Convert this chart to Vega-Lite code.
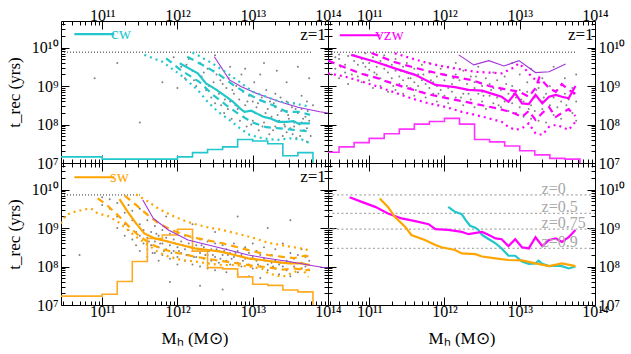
{
"$schema": "https://vega.github.io/schema/vega-lite/v6.json",
"padding": {"left": 4, "top": 2, "right": 0, "bottom": 0},
"background": "white",
"config": {
  "view": {"stroke": "black", "strokeWidth": 1},
  "font": "Liberation Serif",
  "axis": {"domain": false, "grid": false, "tickColor": "black", "tickWidth": 1, "labelFont": "Liberation Serif", "labelFontSize": 16, "labelColor": "black", "titleFont": "Liberation Serif", "titleFontSize": 17, "titleFontWeight": "normal", "titleColor": "black", "labelOverlap": false, "labelFlush": false, "labelBound": false},
  "axisX": {"labelPadding": 6, "titlePadding": 7},
  "axisY": {"labelPadding": 11, "titlePadding": 8}
},
"datasets": {
  "pts": [
    {"p":"cw","m":12.05,"t":9.5},{"p":"cw","m":12.1,"t":9.2},{"p":"cw","m":12.15,"t":9.7},{"p":"cw","m":12.2,"t":9.4},{"p":"cw","m":12.25,"t":9.0},{"p":"cw","m":12.3,"t":9.6},{"p":"cw","m":12.32,"t":9.25},{"p":"cw","m":12.38,"t":8.9},{"p":"cw","m":12.4,"t":9.45},{"p":"cw","m":12.45,"t":8.7},{"p":"cw","m":12.48,"t":9.1},{"p":"cw","m":12.52,"t":9.3},{"p":"cw","m":12.55,"t":8.8},{"p":"cw","m":12.58,"t":8.5},{"p":"cw","m":12.6,"t":9.05},{"p":"cw","m":12.62,"t":8.3},{"p":"cw","m":12.65,"t":8.95},{"p":"cw","m":12.68,"t":9.2},{"p":"cw","m":12.7,"t":8.6},{"p":"cw","m":12.72,"t":8.15},{"p":"cw","m":12.75,"t":8.8},{"p":"cw","m":12.78,"t":9.0},{"p":"cw","m":12.8,"t":8.4},{"p":"cw","m":12.82,"t":8.65},{"p":"cw","m":12.85,"t":9.3},{"p":"cw","m":12.88,"t":8.2},{"p":"cw","m":12.9,"t":8.5},{"p":"cw","m":12.92,"t":7.95},{"p":"cw","m":12.95,"t":8.75},{"p":"cw","m":12.97,"t":8.35},{"p":"cw","m":13.0,"t":8.6},{"p":"cw","m":13.0,"t":8.1},{"p":"cw","m":13.02,"t":9.1},{"p":"cw","m":13.05,"t":8.45},{"p":"cw","m":13.08,"t":7.85},{"p":"cw","m":13.1,"t":8.25},{"p":"cw","m":13.12,"t":8.7},{"p":"cw","m":13.15,"t":8.05},{"p":"cw","m":13.18,"t":8.9},{"p":"cw","m":13.2,"t":8.4},{"p":"cw","m":13.22,"t":7.75},{"p":"cw","m":13.25,"t":8.2},{"p":"cw","m":13.28,"t":8.55},{"p":"cw","m":13.3,"t":7.95},{"p":"cw","m":13.32,"t":9.4},{"p":"cw","m":13.35,"t":8.1},{"p":"cw","m":13.38,"t":8.35},{"p":"cw","m":13.4,"t":7.7},{"p":"cw","m":13.42,"t":8.0},{"p":"cw","m":13.45,"t":8.6},{"p":"cw","m":13.48,"t":8.15},{"p":"cw","m":13.5,"t":7.9},{"p":"cw","m":13.52,"t":8.45},{"p":"cw","m":13.55,"t":8.05},{"p":"cw","m":13.58,"t":7.65},{"p":"cw","m":13.6,"t":8.3},{"p":"cw","m":13.62,"t":8.0},{"p":"cw","m":13.65,"t":8.75},{"p":"cw","m":13.68,"t":7.85},{"p":"cw","m":13.7,"t":8.2},{"p":"cw","m":13.72,"t":7.55},{"p":"cw","m":13.75,"t":8.1},{"p":"cw","m":13.75,"t":9.2},{"p":"cw","m":11.5,"t":8.05},{"p":"cw","m":11.2,"t":9.6},{"p":"cw","m":11.8,"t":9.1},{"p":"cw","m":10.9,"t":9.2},{"p":"cw","m":12.0,"t":8.95},{"p":"cw","m":11.95,"t":9.75},{"p":"cw","m":13.8,"t":8.5},{"p":"cw","m":13.15,"t":9.6},{"p":"cw","m":12.5,"t":9.8},{"p":"cw","m":13.45,"t":9.1},{"p":"cw","m":12.9,"t":9.45},{"p":"cw","m":13.6,"t":9.5},{"p":"cw","m":13.3,"t":8.8},{"p":"cw","m":13.3,"t":8.45},{"p":"cw","m":13.45,"t":8.35},{"p":"cw","m":13.45,"t":7.8},{"p":"cw","m":13.55,"t":8.55},{"p":"cw","m":13.55,"t":7.95},{"p":"cw","m":13.65,"t":8.4},{"p":"cw","m":13.65,"t":8.05},{"p":"cw","m":13.72,"t":8.6},{"p":"cw","m":13.72,"t":7.9},{"p":"cw","m":13.1,"t":9.3},{"p":"cw","m":12.7,"t":9.5},
    {"p":"cw","m":12.12,"t":9.55},{"p":"cw","m":12.22,"t":9.15},{"p":"cw","m":12.35,"t":9.35},{"p":"cw","m":12.42,"t":9.0},{"p":"cw","m":12.5,"t":8.55},{"p":"cw","m":12.57,"t":9.15},{"p":"cw","m":12.63,"t":8.65},{"p":"cw","m":12.67,"t":8.4},{"p":"cw","m":12.73,"t":8.9},{"p":"cw","m":12.77,"t":8.5},{"p":"cw","m":12.83,"t":8.1},{"p":"cw","m":12.87,"t":8.85},{"p":"cw","m":12.93,"t":8.6},{"p":"cw","m":12.98,"t":8.0},{"p":"cw","m":13.03,"t":8.3},{"p":"cw","m":13.07,"t":8.55},{"p":"cw","m":13.13,"t":7.95},{"p":"cw","m":13.17,"t":8.3},{"p":"cw","m":13.23,"t":8.6},{"p":"cw","m":13.27,"t":7.85},{"p":"cw","m":13.33,"t":8.25},{"p":"cw","m":13.37,"t":8.7},{"p":"cw","m":13.43,"t":7.95},{"p":"cw","m":13.47,"t":8.25},{"p":"cw","m":13.53,"t":7.75},{"p":"cw","m":13.57,"t":8.4},{"p":"cw","m":13.63,"t":7.7},{"p":"cw","m":13.67,"t":8.15},{"p":"cw","m":13.73,"t":8.35},{"p":"cw","m":13.77,"t":7.7},
    {"p":"vzw","m":10.5,"t":9.85},{"p":"vzw","m":10.5,"t":9.6},{"p":"vzw","m":10.5,"t":9.3},{"p":"vzw","m":10.55,"t":9.75},{"p":"vzw","m":10.55,"t":9.45},{"p":"vzw","m":10.6,"t":9.7},{"p":"vzw","m":10.6,"t":9.2},{"p":"vzw","m":10.6,"t":9.82},{"p":"vzw","m":10.68,"t":9.55},{"p":"vzw","m":10.68,"t":9.35},{"p":"vzw","m":10.72,"t":9.78},{"p":"vzw","m":10.72,"t":9.05},{"p":"vzw","m":10.8,"t":9.65},{"p":"vzw","m":10.8,"t":9.4},{"p":"vzw","m":10.8,"t":9.8},{"p":"vzw","m":10.85,"t":9.25},{"p":"vzw","m":10.85,"t":9.55},{"p":"vzw","m":10.9,"t":9.7},{"p":"vzw","m":10.9,"t":9.1},{"p":"vzw","m":10.95,"t":9.5},{"p":"vzw","m":10.95,"t":9.3},{"p":"vzw","m":10.95,"t":9.85},{"p":"vzw","m":11.0,"t":9.6},{"p":"vzw","m":11.0,"t":9.15},{"p":"vzw","m":11.0,"t":9.42},{"p":"vzw","m":11.05,"t":9.75},{"p":"vzw","m":11.05,"t":8.95},{"p":"vzw","m":11.1,"t":9.5},{"p":"vzw","m":11.1,"t":9.3},{"p":"vzw","m":11.15,"t":9.65},{"p":"vzw","m":11.15,"t":9.0},{"p":"vzw","m":11.15,"t":9.2},{"p":"vzw","m":11.2,"t":9.45},{"p":"vzw","m":11.2,"t":9.8},{"p":"vzw","m":11.25,"t":9.1},{"p":"vzw","m":11.25,"t":9.35},{"p":"vzw","m":11.25,"t":8.85},{"p":"vzw","m":11.3,"t":9.55},{"p":"vzw","m":11.3,"t":9.2},{"p":"vzw","m":11.35,"t":9.4},{"p":"vzw","m":11.35,"t":8.9},{"p":"vzw","m":11.35,"t":9.7},{"p":"vzw","m":11.4,"t":9.25},{"p":"vzw","m":11.4,"t":9.05},{"p":"vzw","m":11.45,"t":9.5},{"p":"vzw","m":11.45,"t":8.8},{"p":"vzw","m":11.45,"t":9.15},{"p":"vzw","m":11.5,"t":9.35},{"p":"vzw","m":11.5,"t":9.0},{"p":"vzw","m":11.5,"t":9.6},{"p":"vzw","m":11.55,"t":8.95},{"p":"vzw","m":11.55,"t":9.2},{"p":"vzw","m":11.6,"t":9.45},{"p":"vzw","m":11.6,"t":8.75},{"p":"vzw","m":11.6,"t":9.1},{"p":"vzw","m":11.65,"t":9.3},{"p":"vzw","m":11.65,"t":9.0},{"p":"vzw","m":11.7,"t":8.85},{"p":"vzw","m":11.7,"t":9.55},{"p":"vzw","m":11.7,"t":9.15},{"p":"vzw","m":11.75,"t":9.05},{"p":"vzw","m":11.75,"t":8.7},{"p":"vzw","m":11.8,"t":9.35},{"p":"vzw","m":11.8,"t":8.95},{"p":"vzw","m":11.8,"t":9.6},{"p":"vzw","m":11.85,"t":9.1},{"p":"vzw","m":11.85,"t":8.8},{"p":"vzw","m":11.9,"t":9.25},{"p":"vzw","m":11.9,"t":8.6},{"p":"vzw","m":11.9,"t":9.0},{"p":"vzw","m":11.95,"t":9.45},{"p":"vzw","m":11.95,"t":8.9},{"p":"vzw","m":12.0,"t":9.15},{"p":"vzw","m":12.0,"t":8.75},{"p":"vzw","m":12.0,"t":9.3},{"p":"vzw","m":12.05,"t":8.95},{"p":"vzw","m":12.05,"t":9.5},{"p":"vzw","m":12.05,"t":8.55},{"p":"vzw","m":12.1,"t":9.05},{"p":"vzw","m":12.1,"t":8.85},{"p":"vzw","m":12.15,"t":9.3},{"p":"vzw","m":12.15,"t":8.7},{"p":"vzw","m":12.15,"t":9.6},{"p":"vzw","m":12.2,"t":8.95},{"p":"vzw","m":12.2,"t":9.15},{"p":"vzw","m":12.25,"t":8.8},{"p":"vzw","m":12.25,"t":8.5},{"p":"vzw","m":12.25,"t":9.4},{"p":"vzw","m":12.3,"t":9.05},{"p":"vzw","m":12.3,"t":8.9},{"p":"vzw","m":12.35,"t":8.65},{"p":"vzw","m":12.35,"t":9.25},{"p":"vzw","m":12.4,"t":8.95},{"p":"vzw","m":12.4,"t":8.45},{"p":"vzw","m":12.4,"t":9.1},{"p":"vzw","m":12.45,"t":8.8},{"p":"vzw","m":12.45,"t":9.5},{"p":"vzw","m":12.5,"t":9.0},{"p":"vzw","m":12.5,"t":8.6},{"p":"vzw","m":12.5,"t":8.85},{"p":"vzw","m":12.55,"t":9.2},{"p":"vzw","m":12.55,"t":8.4},{"p":"vzw","m":12.6,"t":8.75},{"p":"vzw","m":12.6,"t":9.05},{"p":"vzw","m":12.65,"t":8.95},{"p":"vzw","m":12.65,"t":8.55},{"p":"vzw","m":12.65,"t":9.35},{"p":"vzw","m":12.7,"t":8.7},{"p":"vzw","m":12.7,"t":9.15},{"p":"vzw","m":12.75,"t":8.45},{"p":"vzw","m":12.75,"t":8.9},{"p":"vzw","m":12.8,"t":9.25},{"p":"vzw","m":12.8,"t":8.6},{"p":"vzw","m":12.85,"t":8.8},{"p":"vzw","m":12.85,"t":8.35},{"p":"vzw","m":12.9,"t":9.0},{"p":"vzw","m":12.9,"t":8.55},{"p":"vzw","m":12.9,"t":9.6},{"p":"vzw","m":12.95,"t":8.7},{"p":"vzw","m":12.95,"t":8.3},{"p":"vzw","m":13.0,"t":8.9},{"p":"vzw","m":13.0,"t":8.45},{"p":"vzw","m":13.0,"t":9.3},{"p":"vzw","m":13.05,"t":8.6},{"p":"vzw","m":13.05,"t":8.2},{"p":"vzw","m":13.1,"t":8.85},{"p":"vzw","m":13.1,"t":9.1},{"p":"vzw","m":13.15,"t":8.5},{"p":"vzw","m":13.15,"t":8.15},{"p":"vzw","m":13.15,"t":9.45},{"p":"vzw","m":13.2,"t":8.7},{"p":"vzw","m":13.2,"t":8.35},{"p":"vzw","m":13.25,"t":8.95},{"p":"vzw","m":13.25,"t":8.1},{"p":"vzw","m":13.3,"t":8.6},{"p":"vzw","m":13.3,"t":9.2},{"p":"vzw","m":13.3,"t":8.4},{"p":"vzw","m":13.35,"t":8.8},{"p":"vzw","m":13.35,"t":8.05},{"p":"vzw","m":13.4,"t":8.5},{"p":"vzw","m":13.4,"t":9.0},{"p":"vzw","m":13.45,"t":8.7},{"p":"vzw","m":13.45,"t":8.25},{"p":"vzw","m":13.45,"t":9.5},{"p":"vzw","m":13.5,"t":8.9},{"p":"vzw","m":13.5,"t":8.45},{"p":"vzw","m":13.55,"t":8.6},{"p":"vzw","m":13.55,"t":8.15},{"p":"vzw","m":13.6,"t":8.8},{"p":"vzw","m":13.6,"t":9.2},{"p":"vzw","m":13.65,"t":8.4},{"p":"vzw","m":13.65,"t":8.65},{"p":"vzw","m":13.7,"t":8.95},{"p":"vzw","m":13.7,"t":8.3},{"p":"vzw","m":13.75,"t":8.6},{"p":"vzw","m":13.75,"t":8.1},{"p":"vzw","m":13.75,"t":9.3},
    {"p":"vzw","m":10.62,"t":9.5},{"p":"vzw","m":10.77,"t":9.3},{"p":"vzw","m":10.92,"t":9.6},{"p":"vzw","m":11.07,"t":9.35},{"p":"vzw","m":11.22,"t":9.55},{"p":"vzw","m":11.32,"t":9.0},{"p":"vzw","m":11.42,"t":9.4},{"p":"vzw","m":11.52,"t":9.2},{"p":"vzw","m":11.62,"t":8.9},{"p":"vzw","m":11.72,"t":9.3},{"p":"vzw","m":11.82,"t":9.15},{"p":"vzw","m":11.92,"t":8.8},{"p":"vzw","m":12.02,"t":9.0},{"p":"vzw","m":12.12,"t":9.2},{"p":"vzw","m":12.22,"t":8.7},{"p":"vzw","m":12.32,"t":8.8},{"p":"vzw","m":12.42,"t":9.25},{"p":"vzw","m":12.52,"t":8.75},{"p":"vzw","m":12.62,"t":8.9},{"p":"vzw","m":12.72,"t":8.5},{"p":"vzw","m":12.82,"t":9.05},{"p":"vzw","m":12.92,"t":8.8},{"p":"vzw","m":13.02,"t":8.65},{"p":"vzw","m":13.12,"t":8.4},{"p":"vzw","m":13.22,"t":8.9},{"p":"vzw","m":13.32,"t":8.7},{"p":"vzw","m":13.42,"t":8.35},{"p":"vzw","m":13.52,"t":8.75},{"p":"vzw","m":13.62,"t":8.5},{"p":"vzw","m":13.72,"t":8.8},
    {"p":"sw","m":11.0,"t":9.8},{"p":"sw","m":11.0,"t":9.6},{"p":"sw","m":11.1,"t":9.5},{"p":"sw","m":11.1,"t":9.75},{"p":"sw","m":11.2,"t":9.3},{"p":"sw","m":11.2,"t":9.65},{"p":"sw","m":11.2,"t":9.0},{"p":"sw","m":11.3,"t":9.4},{"p":"sw","m":11.3,"t":9.1},{"p":"sw","m":11.3,"t":8.8},{"p":"sw","m":11.35,"t":9.6},{"p":"sw","m":11.35,"t":8.95},{"p":"sw","m":11.4,"t":9.2},{"p":"sw","m":11.4,"t":8.7},{"p":"sw","m":11.4,"t":9.45},{"p":"sw","m":11.45,"t":8.9},{"p":"sw","m":11.45,"t":8.55},{"p":"sw","m":11.5,"t":9.1},{"p":"sw","m":11.5,"t":8.8},{"p":"sw","m":11.5,"t":8.4},{"p":"sw","m":11.5,"t":9.5},{"p":"sw","m":11.55,"t":8.95},{"p":"sw","m":11.55,"t":8.6},{"p":"sw","m":11.6,"t":8.75},{"p":"sw","m":11.6,"t":9.2},{"p":"sw","m":11.6,"t":8.45},{"p":"sw","m":11.6,"t":8.25},{"p":"sw","m":11.65,"t":8.9},{"p":"sw","m":11.65,"t":8.55},{"p":"sw","m":11.7,"t":8.65},{"p":"sw","m":11.7,"t":9.05},{"p":"sw","m":11.7,"t":8.35},{"p":"sw","m":11.75,"t":8.8},{"p":"sw","m":11.75,"t":8.5},{"p":"sw","m":11.75,"t":8.15},{"p":"sw","m":11.8,"t":8.6},{"p":"sw","m":11.8,"t":8.95},{"p":"sw","m":11.8,"t":8.3},{"p":"sw","m":11.85,"t":8.75},{"p":"sw","m":11.85,"t":8.45},{"p":"sw","m":11.85,"t":9.3},{"p":"sw","m":11.9,"t":8.55},{"p":"sw","m":11.9,"t":8.2},{"p":"sw","m":11.9,"t":8.85},{"p":"sw","m":11.95,"t":8.7},{"p":"sw","m":11.95,"t":8.4},{"p":"sw","m":12.0,"t":8.5},{"p":"sw","m":12.0,"t":8.9},{"p":"sw","m":12.0,"t":8.25},{"p":"sw","m":12.0,"t":8.05},{"p":"sw","m":12.05,"t":8.65},{"p":"sw","m":12.05,"t":8.35},{"p":"sw","m":12.1,"t":8.45},{"p":"sw","m":12.1,"t":8.8},{"p":"sw","m":12.1,"t":8.15},{"p":"sw","m":12.15,"t":8.6},{"p":"sw","m":12.15,"t":8.3},{"p":"sw","m":12.2,"t":8.4},{"p":"sw","m":12.2,"t":8.75},{"p":"sw","m":12.2,"t":8.05},{"p":"sw","m":12.2,"t":9.1},{"p":"sw","m":12.25,"t":8.55},{"p":"sw","m":12.25,"t":8.25},{"p":"sw","m":12.3,"t":8.35},{"p":"sw","m":12.3,"t":8.7},{"p":"sw","m":12.3,"t":8.0},{"p":"sw","m":12.35,"t":8.5},{"p":"sw","m":12.35,"t":8.2},{"p":"sw","m":12.4,"t":8.3},{"p":"sw","m":12.4,"t":8.65},{"p":"sw","m":12.4,"t":7.95},{"p":"sw","m":12.45,"t":8.45},{"p":"sw","m":12.45,"t":8.15},{"p":"sw","m":12.5,"t":8.25},{"p":"sw","m":12.5,"t":8.6},{"p":"sw","m":12.5,"t":7.9},{"p":"sw","m":12.5,"t":8.9},{"p":"sw","m":12.55,"t":8.4},{"p":"sw","m":12.55,"t":8.1},{"p":"sw","m":12.6,"t":8.3},{"p":"sw","m":12.6,"t":8.55},{"p":"sw","m":12.65,"t":8.15},{"p":"sw","m":12.65,"t":8.45},{"p":"sw","m":12.65,"t":7.85},{"p":"sw","m":12.7,"t":8.35},{"p":"sw","m":12.7,"t":8.05},{"p":"sw","m":12.75,"t":8.25},{"p":"sw","m":12.75,"t":8.6},{"p":"sw","m":12.8,"t":8.1},{"p":"sw","m":12.8,"t":8.4},{"p":"sw","m":12.8,"t":7.8},{"p":"sw","m":12.85,"t":8.3},{"p":"sw","m":12.85,"t":8.0},{"p":"sw","m":12.9,"t":8.2},{"p":"sw","m":12.9,"t":8.5},{"p":"sw","m":12.95,"t":8.05},{"p":"sw","m":12.95,"t":8.35},{"p":"sw","m":12.95,"t":7.75},{"p":"sw","m":13.0,"t":8.25},{"p":"sw","m":13.0,"t":7.95},{"p":"sw","m":13.0,"t":8.6},{"p":"sw","m":13.05,"t":8.15},{"p":"sw","m":13.05,"t":8.4},{"p":"sw","m":13.1,"t":8.0},{"p":"sw","m":13.1,"t":8.3},{"p":"sw","m":13.1,"t":7.7},{"p":"sw","m":13.15,"t":8.2},{"p":"sw","m":13.15,"t":8.5},{"p":"sw","m":13.2,"t":8.05},{"p":"sw","m":13.2,"t":7.9},{"p":"sw","m":13.25,"t":8.3},{"p":"sw","m":13.25,"t":8.1},{"p":"sw","m":13.3,"t":7.95},{"p":"sw","m":13.3,"t":8.45},{"p":"sw","m":13.3,"t":8.15},{"p":"sw","m":13.35,"t":8.05},{"p":"sw","m":13.35,"t":7.8},{"p":"sw","m":13.4,"t":8.25},{"p":"sw","m":13.4,"t":8.0},{"p":"sw","m":13.4,"t":8.6},{"p":"sw","m":13.45,"t":7.9},{"p":"sw","m":13.45,"t":8.15},{"p":"sw","m":13.5,"t":8.1},{"p":"sw","m":13.5,"t":8.35},{"p":"sw","m":13.5,"t":7.75},{"p":"sw","m":13.55,"t":8.0},{"p":"sw","m":13.55,"t":8.2},{"p":"sw","m":13.6,"t":8.3},{"p":"sw","m":13.6,"t":7.85},{"p":"sw","m":13.65,"t":8.1},{"p":"sw","m":13.65,"t":8.45},{"p":"sw","m":13.65,"t":7.95},{"p":"sw","m":13.7,"t":8.0},{"p":"sw","m":13.7,"t":8.25},{"p":"sw","m":13.75,"t":8.15},{"p":"sw","m":13.75,"t":7.9},{"p":"sw","m":11.9,"t":7.6},{"p":"sw","m":12.3,"t":7.5},{"p":"sw","m":12.8,"t":9.3},{"p":"sw","m":13.2,"t":9.0},{"p":"sw","m":10.7,"t":8.3},{"p":"sw","m":12.6,"t":7.4},{"p":"sw","m":13.5,"t":9.2},
    {"p":"sw","m":11.62,"t":8.65},{"p":"sw","m":11.67,"t":8.35},{"p":"sw","m":11.72,"t":8.85},{"p":"sw","m":11.77,"t":8.6},{"p":"sw","m":11.82,"t":8.4},{"p":"sw","m":11.87,"t":8.65},{"p":"sw","m":11.92,"t":8.35},{"p":"sw","m":11.97,"t":8.6},{"p":"sw","m":12.02,"t":8.4},{"p":"sw","m":12.07,"t":8.55},{"p":"sw","m":12.12,"t":8.3},{"p":"sw","m":12.17,"t":8.5},{"p":"sw","m":12.22,"t":8.25},{"p":"sw","m":12.27,"t":8.45},{"p":"sw","m":12.32,"t":8.55},{"p":"sw","m":12.37,"t":8.3},{"p":"sw","m":12.42,"t":8.4},{"p":"sw","m":12.47,"t":8.3},{"p":"sw","m":12.52,"t":8.45},{"p":"sw","m":12.57,"t":8.2},{"p":"sw","m":12.62,"t":8.4},{"p":"sw","m":12.67,"t":8.3},{"p":"sw","m":12.72,"t":8.2},{"p":"sw","m":12.77,"t":8.35},{"p":"sw","m":12.87,"t":8.15},{"p":"sw","m":12.97,"t":8.2},{"p":"sw","m":13.07,"t":8.05},{"p":"sw","m":13.17,"t":8.15},{"p":"sw","m":13.27,"t":8.0},{"p":"sw","m":13.37,"t":8.1}
  ],
  "ln": [
    {"p":"cw","s":"p50","m":12.03,"t":9.59},{"p":"cw","s":"p50","m":12.27,"t":9.33},{"p":"cw","s":"p50","m":12.38,"t":9.07},{"p":"cw","s":"p50","m":12.52,"t":8.9},{"p":"cw","s":"p50","m":12.65,"t":8.72},{"p":"cw","s":"p50","m":12.74,"t":8.59},{"p":"cw","s":"p50","m":12.83,"t":8.42},{"p":"cw","s":"p50","m":12.89,"t":8.33},{"p":"cw","s":"p50","m":12.98,"t":8.36},{"p":"cw","s":"p50","m":13.05,"t":8.29},{"p":"cw","s":"p50","m":13.14,"t":8.2},{"p":"cw","s":"p50","m":13.23,"t":8.16},{"p":"cw","s":"p50","m":13.34,"t":8.07},{"p":"cw","s":"p50","m":13.45,"t":8.07},{"p":"cw","s":"p50","m":13.54,"t":8.09},{"p":"cw","s":"p50","m":13.6,"t":8.03},{"p":"cw","s":"p50","m":13.76,"t":8.03},
    {"p":"cw","s":"p25","m":11.85,"t":9.72},{"p":"cw","s":"p25","m":12.04,"t":9.42},{"p":"cw","s":"p25","m":12.29,"t":9.11},{"p":"cw","s":"p25","m":12.47,"t":8.77},{"p":"cw","s":"p25","m":12.65,"t":8.5},{"p":"cw","s":"p25","m":12.83,"t":8.25},{"p":"cw","s":"p25","m":13.0,"t":8.05},{"p":"cw","s":"p25","m":13.18,"t":7.93},{"p":"cw","s":"p25","m":13.36,"t":7.9},{"p":"cw","s":"p25","m":13.54,"t":7.86},{"p":"cw","s":"p25","m":13.76,"t":7.82},
    {"p":"cw","s":"p75","m":12.13,"t":9.76},{"p":"cw","s":"p75","m":12.38,"t":9.5},{"p":"cw","s":"p75","m":12.56,"t":9.29},{"p":"cw","s":"p75","m":12.74,"t":9.03},{"p":"cw","s":"p75","m":12.92,"t":8.81},{"p":"cw","s":"p75","m":13.09,"t":8.64},{"p":"cw","s":"p75","m":13.27,"t":8.5},{"p":"cw","s":"p75","m":13.45,"t":8.33},{"p":"cw","s":"p75","m":13.63,"t":8.33},{"p":"cw","s":"p75","m":13.76,"t":8.25},
    {"p":"cw","s":"p90","m":12.2,"t":9.87},{"p":"cw","s":"p90","m":12.29,"t":9.78},{"p":"cw","s":"p90","m":12.47,"t":9.58},{"p":"cw","s":"p90","m":12.65,"t":9.35},{"p":"cw","s":"p90","m":12.83,"t":9.1},{"p":"cw","s":"p90","m":13.0,"t":8.85},{"p":"cw","s":"p90","m":13.18,"t":8.72},{"p":"cw","s":"p90","m":13.36,"t":8.59},{"p":"cw","s":"p90","m":13.54,"t":8.55},{"p":"cw","s":"p90","m":13.67,"t":8.5},{"p":"cw","s":"p90","m":13.76,"t":8.46},
    {"p":"cw","s":"p10","m":11.56,"t":9.81},{"p":"cw","s":"p10","m":11.8,"t":9.63},{"p":"cw","s":"p10","m":12.04,"t":9.29},{"p":"cw","s":"p10","m":12.27,"t":8.9},{"p":"cw","s":"p10","m":12.4,"t":8.59},{"p":"cw","s":"p10","m":12.54,"t":8.33},{"p":"cw","s":"p10","m":12.69,"t":8.12},{"p":"cw","s":"p10","m":12.83,"t":7.9},{"p":"cw","s":"p10","m":12.96,"t":7.73},{"p":"cw","s":"p10","m":13.14,"t":7.64},{"p":"cw","s":"p10","m":13.32,"t":7.6},{"p":"cw","s":"p10","m":13.49,"t":7.64},{"p":"cw","s":"p10","m":13.67,"t":7.6},{"p":"cw","s":"p10","m":13.76,"t":7.51},
    {"p":"cw","s":"hist","m":10.453,"t":7.16},{"p":"cw","s":"hist","m":11.0,"t":7.1},{"p":"cw","s":"hist","m":12.0,"t":7.16},{"p":"cw","s":"hist","m":12.2,"t":7.27},{"p":"cw","s":"hist","m":12.4,"t":7.35},{"p":"cw","s":"hist","m":12.6,"t":7.42},{"p":"cw","s":"hist","m":12.8,"t":7.61},{"p":"cw","s":"hist","m":13.0,"t":7.57},{"p":"cw","s":"hist","m":13.2,"t":7.5},{"p":"cw","s":"hist","m":13.4,"t":7.19},{"p":"cw","s":"hist","m":13.6,"t":7.27},{"p":"cw","s":"hist","m":13.8,"t":6.5},
    {"p":"cw","s":"purple","m":12.49,"t":9.76},{"p":"cw","s":"purple","m":12.69,"t":9.16},{"p":"cw","s":"purple","m":12.85,"t":8.98},{"p":"cw","s":"purple","m":13.0,"t":8.85},{"p":"cw","s":"purple","m":13.2,"t":8.7},{"p":"cw","s":"purple","m":13.36,"t":8.59},{"p":"cw","s":"purple","m":13.6,"t":8.45},{"p":"cw","s":"purple","m":13.89,"t":8.33},{"p":"cw","s":"purple","m":14.0,"t":8.3},
    {"p":"cw","s":"cap","m":10.453,"t":9.88},{"p":"cw","s":"cap","m":13.8,"t":9.88},
    {"p":"cw","s":"leg","m":10.63,"t":10.35},{"p":"cw","s":"leg","m":11.16,"t":10.35},
    {"p":"vzw","s":"p50","m":10.76,"t":9.81},{"p":"vzw","s":"p50","m":11.08,"t":9.63},{"p":"vzw","s":"p50","m":11.34,"t":9.46},{"p":"vzw","s":"p50","m":11.61,"t":9.29},{"p":"vzw","s":"p50","m":11.88,"t":9.03},{"p":"vzw","s":"p50","m":12.14,"t":8.97},{"p":"vzw","s":"p50","m":12.32,"t":8.9},{"p":"vzw","s":"p50","m":12.5,"t":8.88},{"p":"vzw","s":"p50","m":12.68,"t":8.77},{"p":"vzw","s":"p50","m":12.76,"t":8.72},{"p":"vzw","s":"p50","m":12.85,"t":8.59},{"p":"vzw","s":"p50","m":12.94,"t":8.81},{"p":"vzw","s":"p50","m":13.03,"t":8.55},{"p":"vzw","s":"p50","m":13.12,"t":8.53},{"p":"vzw","s":"p50","m":13.21,"t":8.77},{"p":"vzw","s":"p50","m":13.3,"t":8.55},{"p":"vzw","s":"p50","m":13.39,"t":8.72},{"p":"vzw","s":"p50","m":13.48,"t":8.77},{"p":"vzw","s":"p50","m":13.56,"t":8.72},{"p":"vzw","s":"p50","m":13.65,"t":8.68},{"p":"vzw","s":"p50","m":13.74,"t":9.0},
    {"p":"vzw","s":"p25","m":10.453,"t":9.66},{"p":"vzw","s":"p25","m":10.63,"t":9.52},{"p":"vzw","s":"p25","m":10.9,"t":9.32},{"p":"vzw","s":"p25","m":11.12,"t":9.2},{"p":"vzw","s":"p25","m":11.23,"t":9.12},{"p":"vzw","s":"p25","m":11.5,"t":8.95},{"p":"vzw","s":"p25","m":11.8,"t":8.78},{"p":"vzw","s":"p25","m":12.12,"t":8.65},{"p":"vzw","s":"p25","m":12.3,"t":8.58},{"p":"vzw","s":"p25","m":12.5,"t":8.5},{"p":"vzw","s":"p25","m":12.7,"t":8.42},{"p":"vzw","s":"p25","m":12.85,"t":8.34},{"p":"vzw","s":"p25","m":12.94,"t":8.28},{"p":"vzw","s":"p25","m":13.03,"t":8.2},{"p":"vzw","s":"p25","m":13.12,"t":8.35},{"p":"vzw","s":"p25","m":13.21,"t":8.12},{"p":"vzw","s":"p25","m":13.3,"t":8.3},{"p":"vzw","s":"p25","m":13.39,"t":8.45},{"p":"vzw","s":"p25","m":13.48,"t":8.2},{"p":"vzw","s":"p25","m":13.56,"t":8.3},{"p":"vzw","s":"p25","m":13.65,"t":8.4},{"p":"vzw","s":"p25","m":13.74,"t":8.22},
    {"p":"vzw","s":"p75","m":11.03,"t":9.86},{"p":"vzw","s":"p75","m":11.34,"t":9.62},{"p":"vzw","s":"p75","m":11.56,"t":9.5},{"p":"vzw","s":"p75","m":11.8,"t":9.38},{"p":"vzw","s":"p75","m":12.05,"t":9.27},{"p":"vzw","s":"p75","m":12.37,"t":9.15},{"p":"vzw","s":"p75","m":12.59,"t":9.0},{"p":"vzw","s":"p75","m":12.8,"t":8.92},{"p":"vzw","s":"p75","m":13.0,"t":8.85},{"p":"vzw","s":"p75","m":13.12,"t":8.72},{"p":"vzw","s":"p75","m":13.21,"t":8.95},{"p":"vzw","s":"p75","m":13.26,"t":9.22},{"p":"vzw","s":"p75","m":13.39,"t":8.95},{"p":"vzw","s":"p75","m":13.48,"t":8.85},{"p":"vzw","s":"p75","m":13.56,"t":9.05},{"p":"vzw","s":"p75","m":13.65,"t":8.9},{"p":"vzw","s":"p75","m":13.74,"t":8.8},
    {"p":"vzw","s":"p90","m":11.34,"t":9.85},{"p":"vzw","s":"p90","m":11.56,"t":9.72},{"p":"vzw","s":"p90","m":11.79,"t":9.59},{"p":"vzw","s":"p90","m":12.01,"t":9.5},{"p":"vzw","s":"p90","m":12.23,"t":9.43},{"p":"vzw","s":"p90","m":12.41,"t":9.37},{"p":"vzw","s":"p90","m":12.59,"t":9.35},{"p":"vzw","s":"p90","m":12.76,"t":9.33},{"p":"vzw","s":"p90","m":12.9,"t":9.46},{"p":"vzw","s":"p90","m":12.99,"t":9.59},{"p":"vzw","s":"p90","m":13.08,"t":9.42},{"p":"vzw","s":"p90","m":13.16,"t":9.24},{"p":"vzw","s":"p90","m":13.25,"t":9.1},{"p":"vzw","s":"p90","m":13.3,"t":9.05},
    {"p":"vzw","s":"p10","m":10.453,"t":9.33},{"p":"vzw","s":"p10","m":10.67,"t":9.25},{"p":"vzw","s":"p10","m":10.9,"t":9.12},{"p":"vzw","s":"p10","m":11.12,"t":8.98},{"p":"vzw","s":"p10","m":11.34,"t":8.83},{"p":"vzw","s":"p10","m":11.56,"t":8.68},{"p":"vzw","s":"p10","m":11.79,"t":8.55},{"p":"vzw","s":"p10","m":12.01,"t":8.46},{"p":"vzw","s":"p10","m":12.23,"t":8.33},{"p":"vzw","s":"p10","m":12.41,"t":8.25},{"p":"vzw","s":"p10","m":12.59,"t":8.16},{"p":"vzw","s":"p10","m":12.76,"t":8.07},{"p":"vzw","s":"p10","m":12.85,"t":7.94},{"p":"vzw","s":"p10","m":12.94,"t":7.86},{"p":"vzw","s":"p10","m":13.03,"t":7.9},{"p":"vzw","s":"p10","m":13.12,"t":8.03},{"p":"vzw","s":"p10","m":13.21,"t":7.77},{"p":"vzw","s":"p10","m":13.3,"t":7.73},{"p":"vzw","s":"p10","m":13.39,"t":7.94},{"p":"vzw","s":"p10","m":13.48,"t":7.99},{"p":"vzw","s":"p10","m":13.56,"t":7.94},{"p":"vzw","s":"p10","m":13.65,"t":7.86},{"p":"vzw","s":"p10","m":13.74,"t":8.07},
    {"p":"vzw","s":"hist","m":10.453,"t":7.28},{"p":"vzw","s":"hist","m":10.6,"t":7.42},{"p":"vzw","s":"hist","m":10.8,"t":7.53},{"p":"vzw","s":"hist","m":11.0,"t":7.64},{"p":"vzw","s":"hist","m":11.2,"t":7.76},{"p":"vzw","s":"hist","m":11.4,"t":7.88},{"p":"vzw","s":"hist","m":11.6,"t":8.01},{"p":"vzw","s":"hist","m":11.8,"t":8.08},{"p":"vzw","s":"hist","m":12.0,"t":8.16},{"p":"vzw","s":"hist","m":12.2,"t":8.01},{"p":"vzw","s":"hist","m":12.4,"t":7.61},{"p":"vzw","s":"hist","m":12.6,"t":7.55},{"p":"vzw","s":"hist","m":12.8,"t":7.44},{"p":"vzw","s":"hist","m":13.0,"t":7.32},{"p":"vzw","s":"hist","m":13.2,"t":7.21},{"p":"vzw","s":"hist","m":13.4,"t":7.12},{"p":"vzw","s":"hist","m":13.6,"t":7.1},{"p":"vzw","s":"hist","m":13.8,"t":6.5},
    {"p":"vzw","s":"purple","m":12.19,"t":9.81},{"p":"vzw","s":"purple","m":12.39,"t":9.55},{"p":"vzw","s":"purple","m":12.59,"t":9.66},{"p":"vzw","s":"purple","m":12.79,"t":9.52},{"p":"vzw","s":"purple","m":12.99,"t":9.66},{"p":"vzw","s":"purple","m":13.21,"t":9.35},{"p":"vzw","s":"purple","m":13.39,"t":9.37},{"p":"vzw","s":"purple","m":13.61,"t":9.57},
    {"p":"vzw","s":"cap","m":10.453,"t":9.88},{"p":"vzw","s":"cap","m":13.75,"t":9.88},
    {"p":"vzw","s":"leg","m":10.61,"t":10.32},{"p":"vzw","s":"leg","m":11.14,"t":10.32},
    {"p":"sw","s":"p50","m":11.23,"t":9.75},{"p":"sw","s":"p50","m":11.34,"t":9.42},{"p":"sw","s":"p50","m":11.45,"t":9.12},{"p":"sw","s":"p50","m":11.56,"t":8.86},{"p":"sw","s":"p50","m":11.7,"t":8.73},{"p":"sw","s":"p50","m":11.87,"t":8.65},{"p":"sw","s":"p50","m":12.05,"t":8.56},{"p":"sw","s":"p50","m":12.23,"t":8.47},{"p":"sw","s":"p50","m":12.41,"t":8.43},{"p":"sw","s":"p50","m":12.59,"t":8.38},{"p":"sw","s":"p50","m":12.76,"t":8.3},{"p":"sw","s":"p50","m":12.94,"t":8.21},{"p":"sw","s":"p50","m":13.12,"t":8.17},{"p":"sw","s":"p50","m":13.3,"t":8.12},{"p":"sw","s":"p50","m":13.48,"t":8.08},{"p":"sw","s":"p50","m":13.65,"t":8.08},{"p":"sw","s":"p50","m":13.76,"t":8.04},
    {"p":"sw","s":"p25","m":10.94,"t":9.77},{"p":"sw","s":"p25","m":11.05,"t":9.62},{"p":"sw","s":"p25","m":11.2,"t":9.35},{"p":"sw","s":"p25","m":11.35,"t":9.05},{"p":"sw","s":"p25","m":11.5,"t":8.78},{"p":"sw","s":"p25","m":11.65,"t":8.58},{"p":"sw","s":"p25","m":11.8,"t":8.45},{"p":"sw","s":"p25","m":12.0,"t":8.35},{"p":"sw","s":"p25","m":12.2,"t":8.27},{"p":"sw","s":"p25","m":12.4,"t":8.2},{"p":"sw","s":"p25","m":12.6,"t":8.14},{"p":"sw","s":"p25","m":12.8,"t":8.08},{"p":"sw","s":"p25","m":13.0,"t":8.02},{"p":"sw","s":"p25","m":13.2,"t":7.98},{"p":"sw","s":"p25","m":13.4,"t":7.92},{"p":"sw","s":"p25","m":13.55,"t":7.95},{"p":"sw","s":"p25","m":13.7,"t":7.9},{"p":"sw","s":"p25","m":13.76,"t":7.92},
    {"p":"sw","s":"p75","m":11.3,"t":9.84},{"p":"sw","s":"p75","m":11.45,"t":9.6},{"p":"sw","s":"p75","m":11.6,"t":9.35},{"p":"sw","s":"p75","m":11.75,"t":9.12},{"p":"sw","s":"p75","m":11.9,"t":8.97},{"p":"sw","s":"p75","m":12.05,"t":8.85},{"p":"sw","s":"p75","m":12.2,"t":8.76},{"p":"sw","s":"p75","m":12.4,"t":8.68},{"p":"sw","s":"p75","m":12.6,"t":8.6},{"p":"sw","s":"p75","m":12.8,"t":8.5},{"p":"sw","s":"p75","m":13.0,"t":8.4},{"p":"sw","s":"p75","m":13.2,"t":8.3},{"p":"sw","s":"p75","m":13.4,"t":8.25},{"p":"sw","s":"p75","m":13.55,"t":8.22},{"p":"sw","s":"p75","m":13.7,"t":8.28},{"p":"sw","s":"p75","m":13.76,"t":8.25},
    {"p":"sw","s":"p90","m":11.45,"t":9.87},{"p":"sw","s":"p90","m":11.6,"t":9.7},{"p":"sw","s":"p90","m":11.75,"t":9.5},{"p":"sw","s":"p90","m":11.9,"t":9.35},{"p":"sw","s":"p90","m":12.05,"t":9.22},{"p":"sw","s":"p90","m":12.2,"t":9.12},{"p":"sw","s":"p90","m":12.4,"t":9.02},{"p":"sw","s":"p90","m":12.6,"t":8.95},{"p":"sw","s":"p90","m":12.8,"t":8.85},{"p":"sw","s":"p90","m":13.0,"t":8.75},{"p":"sw","s":"p90","m":13.2,"t":8.62},{"p":"sw","s":"p90","m":13.4,"t":8.55},{"p":"sw","s":"p90","m":13.55,"t":8.5},{"p":"sw","s":"p90","m":13.7,"t":8.45},{"p":"sw","s":"p90","m":13.76,"t":8.4},
    {"p":"sw","s":"p10","m":10.45,"t":9.12},{"p":"sw","s":"p10","m":10.52,"t":9.34},{"p":"sw","s":"p10","m":10.63,"t":9.42},{"p":"sw","s":"p10","m":10.76,"t":9.48},{"p":"sw","s":"p10","m":10.85,"t":9.51},{"p":"sw","s":"p10","m":10.94,"t":9.38},{"p":"sw","s":"p10","m":11.08,"t":9.31},{"p":"sw","s":"p10","m":11.21,"t":9.16},{"p":"sw","s":"p10","m":11.34,"t":8.95},{"p":"sw","s":"p10","m":11.48,"t":8.73},{"p":"sw","s":"p10","m":11.61,"t":8.56},{"p":"sw","s":"p10","m":11.74,"t":8.38},{"p":"sw","s":"p10","m":11.88,"t":8.26},{"p":"sw","s":"p10","m":12.05,"t":8.17},{"p":"sw","s":"p10","m":12.23,"t":8.13},{"p":"sw","s":"p10","m":12.41,"t":8.08},{"p":"sw","s":"p10","m":12.59,"t":8.04},{"p":"sw","s":"p10","m":12.76,"t":8.04},{"p":"sw","s":"p10","m":12.94,"t":8.0},{"p":"sw","s":"p10","m":13.12,"t":7.95},{"p":"sw","s":"p10","m":13.21,"t":7.82},{"p":"sw","s":"p10","m":13.39,"t":7.73},{"p":"sw","s":"p10","m":13.56,"t":7.86},{"p":"sw","s":"p10","m":13.65,"t":7.95},{"p":"sw","s":"p10","m":13.74,"t":7.73},
    {"p":"sw","s":"hist","m":10.453,"t":7.23},{"p":"sw","s":"hist","m":11.0,"t":7.28},{"p":"sw","s":"hist","m":11.2,"t":7.61},{"p":"sw","s":"hist","m":11.4,"t":8.13},{"p":"sw","s":"hist","m":11.6,"t":8.73},{"p":"sw","s":"hist","m":11.8,"t":8.82},{"p":"sw","s":"hist","m":12.0,"t":8.97},{"p":"sw","s":"hist","m":12.2,"t":8.4},{"p":"sw","s":"hist","m":12.4,"t":7.97},{"p":"sw","s":"hist","m":12.6,"t":7.94},{"p":"sw","s":"hist","m":12.8,"t":7.73},{"p":"sw","s":"hist","m":13.0,"t":7.54},{"p":"sw","s":"hist","m":13.2,"t":7.51},{"p":"sw","s":"hist","m":13.4,"t":7.39},{"p":"sw","s":"hist","m":13.6,"t":7.34},{"p":"sw","s":"hist","m":13.8,"t":6.5},
    {"p":"sw","s":"purple","m":11.54,"t":9.73},{"p":"sw","s":"purple","m":11.68,"t":9.25},{"p":"sw","s":"purple","m":11.88,"t":8.95},{"p":"sw","s":"purple","m":12.14,"t":8.69},{"p":"sw","s":"purple","m":12.41,"t":8.56},{"p":"sw","s":"purple","m":12.68,"t":8.43},{"p":"sw","s":"purple","m":12.94,"t":8.3},{"p":"sw","s":"purple","m":13.21,"t":8.21},{"p":"sw","s":"purple","m":13.48,"t":8.13},{"p":"sw","s":"purple","m":13.74,"t":8.04},{"p":"sw","s":"purple","m":13.92,"t":7.98},{"p":"sw","s":"purple","m":14.0,"t":7.96},
    {"p":"sw","s":"cap","m":10.453,"t":9.86},{"p":"sw","s":"cap","m":11.5,"t":9.86},
    {"p":"sw","s":"leg","m":10.63,"t":10.32},{"p":"sw","s":"leg","m":11.16,"t":10.32},
    {"p":"cw","s":"cmp","m":12.05,"t":9.55},{"p":"cw","s":"cmp","m":12.14,"t":9.42},{"p":"cw","s":"cmp","m":12.23,"t":9.36},{"p":"cw","s":"cmp","m":12.28,"t":9.21},{"p":"cw","s":"cmp","m":12.34,"t":9.06},{"p":"cw","s":"cmp","m":12.41,"t":9.01},{"p":"cw","s":"cmp","m":12.45,"t":8.95},{"p":"cw","s":"cmp","m":12.5,"t":8.82},{"p":"cw","s":"cmp","m":12.59,"t":8.71},{"p":"cw","s":"cmp","m":12.68,"t":8.6},{"p":"cw","s":"cmp","m":12.76,"t":8.47},{"p":"cw","s":"cmp","m":12.85,"t":8.28},{"p":"cw","s":"cmp","m":12.94,"t":8.28},{"p":"cw","s":"cmp","m":13.03,"t":8.13},{"p":"cw","s":"cmp","m":13.12,"t":8.07},{"p":"cw","s":"cmp","m":13.21,"t":8.08},{"p":"cw","s":"cmp","m":13.25,"t":8.15},{"p":"cw","s":"cmp","m":13.3,"t":8.07},{"p":"cw","s":"cmp","m":13.39,"t":8.01},{"p":"cw","s":"cmp","m":13.48,"t":8.02},{"p":"cw","s":"cmp","m":13.56,"t":8.01},{"p":"cw","s":"cmp","m":13.65,"t":7.95},{"p":"cw","s":"cmp","m":13.74,"t":8.0},
    {"p":"vzw","s":"cmp","m":10.74,"t":9.8},{"p":"vzw","s":"cmp","m":10.9,"t":9.68},{"p":"vzw","s":"cmp","m":11.08,"t":9.55},{"p":"vzw","s":"cmp","m":11.25,"t":9.38},{"p":"vzw","s":"cmp","m":11.43,"t":9.25},{"p":"vzw","s":"cmp","m":11.61,"t":9.18},{"p":"vzw","s":"cmp","m":11.79,"t":9.1},{"p":"vzw","s":"cmp","m":11.88,"t":8.97},{"p":"vzw","s":"cmp","m":12.05,"t":8.95},{"p":"vzw","s":"cmp","m":12.23,"t":8.9},{"p":"vzw","s":"cmp","m":12.32,"t":8.84},{"p":"vzw","s":"cmp","m":12.5,"t":8.9},{"p":"vzw","s":"cmp","m":12.59,"t":8.82},{"p":"vzw","s":"cmp","m":12.68,"t":8.73},{"p":"vzw","s":"cmp","m":12.76,"t":8.71},{"p":"vzw","s":"cmp","m":12.85,"t":8.53},{"p":"vzw","s":"cmp","m":12.94,"t":8.71},{"p":"vzw","s":"cmp","m":13.03,"t":8.5},{"p":"vzw","s":"cmp","m":13.12,"t":8.47},{"p":"vzw","s":"cmp","m":13.21,"t":8.76},{"p":"vzw","s":"cmp","m":13.3,"t":8.53},{"p":"vzw","s":"cmp","m":13.39,"t":8.69},{"p":"vzw","s":"cmp","m":13.48,"t":8.73},{"p":"vzw","s":"cmp","m":13.56,"t":8.64},{"p":"vzw","s":"cmp","m":13.65,"t":8.76},{"p":"vzw","s":"cmp","m":13.74,"t":8.95},
    {"p":"sw","s":"cmp","m":11.14,"t":9.77},{"p":"sw","s":"cmp","m":11.25,"t":9.55},{"p":"sw","s":"cmp","m":11.34,"t":9.29},{"p":"sw","s":"cmp","m":11.48,"t":9.03},{"p":"sw","s":"cmp","m":11.56,"t":8.82},{"p":"sw","s":"cmp","m":11.74,"t":8.69},{"p":"sw","s":"cmp","m":11.88,"t":8.56},{"p":"sw","s":"cmp","m":11.96,"t":8.5},{"p":"sw","s":"cmp","m":12.14,"t":8.43},{"p":"sw","s":"cmp","m":12.23,"t":8.34},{"p":"sw","s":"cmp","m":12.41,"t":8.32},{"p":"sw","s":"cmp","m":12.5,"t":8.26},{"p":"sw","s":"cmp","m":12.68,"t":8.21},{"p":"sw","s":"cmp","m":12.85,"t":8.17},{"p":"sw","s":"cmp","m":13.03,"t":8.16},{"p":"sw","s":"cmp","m":13.21,"t":8.08},{"p":"sw","s":"cmp","m":13.39,"t":8.01},{"p":"sw","s":"cmp","m":13.56,"t":8.08},{"p":"sw","s":"cmp","m":13.74,"t":8.01},
    {"p":"z","s":"z0","m":10.453,"t":9.86},{"p":"z","s":"z0","m":14,"t":9.86},
    {"p":"z","s":"z05","m":10.453,"t":9.38},{"p":"z","s":"z05","m":14,"t":9.38},
    {"p":"z","s":"z075","m":10.453,"t":8.97},{"p":"z","s":"z075","m":14,"t":8.97},
    {"p":"z","s":"z09","m":10.453,"t":8.47},{"p":"z","s":"z09","m":14,"t":8.47}
  ],
  "tx": [
    {"p":"cw","k":"name","m":11.25,"t":10.35,"label":"cw"},
    {"p":"cw","k":"z","m":13.8,"t":10.33,"label":"z=1"},
    {"p":"vzw","k":"name","m":11.27,"t":10.32,"label":"vzw"},
    {"p":"vzw","k":"z","m":13.81,"t":10.33,"label":"z=1"},
    {"p":"sw","k":"name","m":11.23,"t":10.32,"label":"sw"},
    {"p":"sw","k":"z","m":13.8,"t":10.33,"label":"z=1"},
    {"p":"z","k":"zl","m":13.29,"t":9.89,"label":"z=0"},
    {"p":"z","k":"zl","m":13.29,"t":9.41,"label":"z=0.5"},
    {"p":"z","k":"zl","m":13.29,"t":9.0,"label":"z=0.75"},
    {"p":"z","k":"zl","m":13.29,"t":8.5,"label":"z=0.9"}
  ]
},
"columns": 2,
"spacing": 0,
"bounds": "flush",
"concat": [
  {"width": 267, "height": 142,
   "resolve": {"axis": {"x": "independent", "y": "independent"}},
   "layer": [
    {"data": {"name": "pts"}, "transform": [{"filter": "datum.p=='cw'"}],
     "mark": {"type": "circle", "size": 4, "color": "#555", "opacity": 0.75},
     "encoding": {
      "x": {"field": "m", "type": "quantitative", "scale": {"domain": [10.453, 14], "nice": false, "zero": false},
            "axis": {"orient": "bottom", "values": [10.477,10.602,10.699,10.778,10.845,10.903,10.954,11,11.301,11.477,11.602,11.699,11.778,11.845,11.903,11.954,12,12.301,12.477,12.602,12.699,12.778,12.845,12.903,12.954,13,13.301,13.477,13.602,13.699,13.778,13.845,13.903,13.954,14], "labels": false, "title": null, "tickSize": {"condition": {"test": "datum.value==round(datum.value)", "value": -8}, "value": -4}}},
      "y": {"field": "t", "type": "quantitative", "scale": {"domain": [7, 10.69], "nice": false, "zero": false},
            "axis": {"orient": "left", "values": [7,7.301,7.477,7.602,7.699,7.778,7.845,7.903,7.954,8,8.301,8.477,8.602,8.699,8.778,8.845,8.903,8.954,9,9.301,9.477,9.602,9.699,9.778,9.845,9.903,9.954,10,10.301,10.477,10.602], "labelExpr": "datum.value==7?'10⁷':datum.value==8?'10⁸':datum.value==9?'10⁹':datum.value==10?'10¹⁰':''", "title": "t_rec (yrs)", "tickSize": {"condition": {"test": "datum.value==round(datum.value)", "value": -8}, "value": -4}}}
     }},
    {"data": {"name": "ln"}, "transform": [{"filter": "datum.p=='cw'&&datum.s=='hist'"}],
     "mark": {"type": "line", "interpolate": "step-after", "color": "#22c7cc", "strokeWidth": 1.6, "clip": true},
     "encoding": {
      "x": {"field": "m", "type": "quantitative", "scale": {"domain": [10.453, 14], "nice": false, "zero": false},
            "axis": {"orient": "top", "values": [10.477,10.602,10.699,10.778,10.845,10.903,10.954,11,11.301,11.477,11.602,11.699,11.778,11.845,11.903,11.954,12,12.301,12.477,12.602,12.699,12.778,12.845,12.903,12.954,13,13.301,13.477,13.602,13.699,13.778,13.845,13.903,13.954,14], "labelExpr": "datum.value==11?'10¹¹':datum.value==12?'10¹²':datum.value==13?'10¹³':datum.value==14?'10¹⁴':''", "title": null, "tickSize": {"condition": {"test": "datum.value==round(datum.value)", "value": -8}, "value": -4}}},
      "y": {"field": "t", "type": "quantitative", "scale": {"domain": [7, 10.69], "nice": false, "zero": false},
            "axis": {"orient": "right", "values": [7,7.301,7.477,7.602,7.699,7.778,7.845,7.903,7.954,8,8.301,8.477,8.602,8.699,8.778,8.845,8.903,8.954,9,9.301,9.477,9.602,9.699,9.778,9.845,9.903,9.954,10,10.301,10.477,10.602], "labels": false, "title": null, "tickSize": {"condition": {"test": "datum.value==round(datum.value)", "value": -8}, "value": -4}}}
     }},
    {"data": {"name": "ln"}, "transform": [{"filter": "datum.p=='cw'&&datum.s=='cap'"}],
     "mark": {"type": "line", "color": "#333", "strokeWidth": 1, "strokeDash": [1, 2], "clip": true},
     "encoding": {"x": {"field": "m", "type": "quantitative", "scale": {"domain": [10.453, 14]}, "axis": null}, "y": {"field": "t", "type": "quantitative", "scale": {"domain": [7, 10.69]}, "axis": null}}},
    {"data": {"name": "ln"}, "transform": [{"filter": "datum.p=='cw'&&datum.s=='purple'"}],
     "mark": {"type": "line", "color": "#a234d8", "strokeWidth": 1.1, "clip": true},
     "encoding": {"x": {"field": "m", "type": "quantitative", "scale": {"domain": [10.453, 14]}, "axis": null}, "y": {"field": "t", "type": "quantitative", "scale": {"domain": [7, 10.69]}, "axis": null}}},
    {"data": {"name": "ln"}, "transform": [{"filter": "datum.p=='cw'&&(datum.s=='p10'||datum.s=='p90')"}],
     "mark": {"type": "line", "color": "#22c7cc", "strokeWidth": 2.2, "strokeDash": [2, 4], "clip": true},
     "encoding": {"x": {"field": "m", "type": "quantitative", "scale": {"domain": [10.453, 14]}, "axis": null}, "y": {"field": "t", "type": "quantitative", "scale": {"domain": [7, 10.69]}, "axis": null}, "detail": {"field": "s"}}},
    {"data": {"name": "ln"}, "transform": [{"filter": "datum.p=='cw'&&(datum.s=='p25'||datum.s=='p75')"}],
     "mark": {"type": "line", "color": "#22c7cc", "strokeWidth": 2.2, "strokeDash": [7, 5], "clip": true},
     "encoding": {"x": {"field": "m", "type": "quantitative", "scale": {"domain": [10.453, 14]}, "axis": null}, "y": {"field": "t", "type": "quantitative", "scale": {"domain": [7, 10.69]}, "axis": null}, "detail": {"field": "s"}}},
    {"data": {"name": "ln"}, "transform": [{"filter": "datum.p=='cw'&&(datum.s=='p50'||datum.s=='leg')"}],
     "mark": {"type": "line", "color": "#22c7cc", "strokeWidth": 2.2, "clip": true},
     "encoding": {"x": {"field": "m", "type": "quantitative", "scale": {"domain": [10.453, 14]}, "axis": null}, "y": {"field": "t", "type": "quantitative", "scale": {"domain": [7, 10.69]}, "axis": null}, "detail": {"field": "s"}}},
    {"data": {"name": "tx"}, "transform": [{"filter": "datum.p=='cw'"}],
     "mark": {"type": "text", "font": "Liberation Serif", "fontSize": 17, "baseline": "middle"},
     "encoding": {"x": {"field": "m", "type": "quantitative", "scale": {"domain": [10.453, 14]}, "axis": null}, "y": {"field": "t", "type": "quantitative", "scale": {"domain": [7, 10.69]}, "axis": null}, "text": {"field": "label"},
       "color": {"condition": {"test": "datum.k=='name'", "value": "#22c7cc"}, "value": "black"},
       "align": {"condition": {"test": "datum.k=='name'", "value": "left"}, "value": "right"}}}
   ]},
  {"width": 267, "height": 142,
   "resolve": {"axis": {"x": "independent", "y": "independent"}},
   "layer": [
    {"data": {"name": "pts"}, "transform": [{"filter": "datum.p=='vzw'"}],
     "mark": {"type": "circle", "size": 4, "color": "#555", "opacity": 0.75},
     "encoding": {
      "x": {"field": "m", "type": "quantitative", "scale": {"domain": [10.453, 14], "nice": false, "zero": false},
            "axis": {"orient": "bottom", "values": [10.477,10.602,10.699,10.778,10.845,10.903,10.954,11,11.301,11.477,11.602,11.699,11.778,11.845,11.903,11.954,12,12.301,12.477,12.602,12.699,12.778,12.845,12.903,12.954,13,13.301,13.477,13.602,13.699,13.778,13.845,13.903,13.954,14], "labels": false, "title": null, "tickSize": {"condition": {"test": "datum.value==round(datum.value)", "value": -8}, "value": -4}}},
      "y": {"field": "t", "type": "quantitative", "scale": {"domain": [7, 10.69], "nice": false, "zero": false},
            "axis": {"orient": "left", "values": [7,7.301,7.477,7.602,7.699,7.778,7.845,7.903,7.954,8,8.301,8.477,8.602,8.699,8.778,8.845,8.903,8.954,9,9.301,9.477,9.602,9.699,9.778,9.845,9.903,9.954,10,10.301,10.477,10.602], "labels": false, "title": null, "tickSize": {"condition": {"test": "datum.value==round(datum.value)", "value": -8}, "value": -4}}}
     }},
    {"data": {"name": "ln"}, "transform": [{"filter": "datum.p=='vzw'&&datum.s=='hist'"}],
     "mark": {"type": "line", "interpolate": "step-after", "color": "#ff33ff", "strokeWidth": 1.6, "clip": true},
     "encoding": {
      "x": {"field": "m", "type": "quantitative", "scale": {"domain": [10.453, 14], "nice": false, "zero": false},
            "axis": {"orient": "top", "values": [10.477,10.602,10.699,10.778,10.845,10.903,10.954,11,11.301,11.477,11.602,11.699,11.778,11.845,11.903,11.954,12,12.301,12.477,12.602,12.699,12.778,12.845,12.903,12.954,13,13.301,13.477,13.602,13.699,13.778,13.845,13.903,13.954,14], "labelExpr": "datum.value==11?'10¹¹':datum.value==12?'10¹²':datum.value==13?'10¹³':datum.value==14?'10¹⁴':''", "title": null, "tickSize": {"condition": {"test": "datum.value==round(datum.value)", "value": -8}, "value": -4}}},
      "y": {"field": "t", "type": "quantitative", "scale": {"domain": [7, 10.69], "nice": false, "zero": false},
            "axis": {"orient": "right", "values": [7,7.301,7.477,7.602,7.699,7.778,7.845,7.903,7.954,8,8.301,8.477,8.602,8.699,8.778,8.845,8.903,8.954,9,9.301,9.477,9.602,9.699,9.778,9.845,9.903,9.954,10,10.301,10.477,10.602], "labelExpr": "datum.value==7?'10⁷':datum.value==8?'10⁸':datum.value==9?'10⁹':datum.value==10?'10¹⁰':''", "labelAlign": "left", "title": null, "tickSize": {"condition": {"test": "datum.value==round(datum.value)", "value": -8}, "value": -4}}}
     }},
    {"data": {"name": "ln"}, "transform": [{"filter": "datum.p=='vzw'&&datum.s=='cap'"}],
     "mark": {"type": "line", "color": "#333", "strokeWidth": 1, "strokeDash": [1, 2], "clip": true},
     "encoding": {"x": {"field": "m", "type": "quantitative", "scale": {"domain": [10.453, 14]}, "axis": null}, "y": {"field": "t", "type": "quantitative", "scale": {"domain": [7, 10.69]}, "axis": null}}},
    {"data": {"name": "ln"}, "transform": [{"filter": "datum.p=='vzw'&&datum.s=='purple'"}],
     "mark": {"type": "line", "color": "#a234d8", "strokeWidth": 1.1, "clip": true},
     "encoding": {"x": {"field": "m", "type": "quantitative", "scale": {"domain": [10.453, 14]}, "axis": null}, "y": {"field": "t", "type": "quantitative", "scale": {"domain": [7, 10.69]}, "axis": null}}},
    {"data": {"name": "ln"}, "transform": [{"filter": "datum.p=='vzw'&&(datum.s=='p10'||datum.s=='p90')"}],
     "mark": {"type": "line", "color": "#ff00ff", "strokeWidth": 2.2, "strokeDash": [2, 4], "clip": true},
     "encoding": {"x": {"field": "m", "type": "quantitative", "scale": {"domain": [10.453, 14]}, "axis": null}, "y": {"field": "t", "type": "quantitative", "scale": {"domain": [7, 10.69]}, "axis": null}, "detail": {"field": "s"}}},
    {"data": {"name": "ln"}, "transform": [{"filter": "datum.p=='vzw'&&(datum.s=='p25'||datum.s=='p75')"}],
     "mark": {"type": "line", "color": "#ff00ff", "strokeWidth": 2.2, "strokeDash": [7, 5], "clip": true},
     "encoding": {"x": {"field": "m", "type": "quantitative", "scale": {"domain": [10.453, 14]}, "axis": null}, "y": {"field": "t", "type": "quantitative", "scale": {"domain": [7, 10.69]}, "axis": null}, "detail": {"field": "s"}}},
    {"data": {"name": "ln"}, "transform": [{"filter": "datum.p=='vzw'&&(datum.s=='p50'||datum.s=='leg')"}],
     "mark": {"type": "line", "color": "#ff00ff", "strokeWidth": 2.2, "clip": true},
     "encoding": {"x": {"field": "m", "type": "quantitative", "scale": {"domain": [10.453, 14]}, "axis": null}, "y": {"field": "t", "type": "quantitative", "scale": {"domain": [7, 10.69]}, "axis": null}, "detail": {"field": "s"}}},
    {"data": {"name": "tx"}, "transform": [{"filter": "datum.p=='vzw'"}],
     "mark": {"type": "text", "font": "Liberation Serif", "fontSize": 17, "baseline": "middle"},
     "encoding": {"x": {"field": "m", "type": "quantitative", "scale": {"domain": [10.453, 14]}, "axis": null}, "y": {"field": "t", "type": "quantitative", "scale": {"domain": [7, 10.69]}, "axis": null}, "text": {"field": "label"},
       "color": {"condition": {"test": "datum.k=='name'", "value": "#ff00ff"}, "value": "black"},
       "align": {"condition": {"test": "datum.k=='name'", "value": "left"}, "value": "right"}}}
   ]},
  {"width": 267, "height": 142,
   "resolve": {"axis": {"x": "independent", "y": "independent"}},
   "layer": [
    {"data": {"name": "pts"}, "transform": [{"filter": "datum.p=='sw'"}],
     "mark": {"type": "circle", "size": 4, "color": "#555", "opacity": 0.75},
     "encoding": {
      "x": {"field": "m", "type": "quantitative", "scale": {"domain": [10.453, 14], "nice": false, "zero": false},
            "axis": {"orient": "bottom", "values": [10.477,10.602,10.699,10.778,10.845,10.903,10.954,11,11.301,11.477,11.602,11.699,11.778,11.845,11.903,11.954,12,12.301,12.477,12.602,12.699,12.778,12.845,12.903,12.954,13,13.301,13.477,13.602,13.699,13.778,13.845,13.903,13.954,14], "labelExpr": "datum.value==11?'10¹¹':datum.value==12?'10¹²':datum.value==13?'10¹³':datum.value==14?'10¹⁴':''", "title": "Mₕ (M⊙)", "tickSize": {"condition": {"test": "datum.value==round(datum.value)", "value": -8}, "value": -4}}},
      "y": {"field": "t", "type": "quantitative", "scale": {"domain": [7, 10.69], "nice": false, "zero": false},
            "axis": {"orient": "left", "values": [7,7.301,7.477,7.602,7.699,7.778,7.845,7.903,7.954,8,8.301,8.477,8.602,8.699,8.778,8.845,8.903,8.954,9,9.301,9.477,9.602,9.699,9.778,9.845,9.903,9.954,10,10.301,10.477,10.602], "labelExpr": "datum.value==7?'10⁷':datum.value==8?'10⁸':datum.value==9?'10⁹':datum.value==10?'10¹⁰':''", "title": "t_rec (yrs)", "tickSize": {"condition": {"test": "datum.value==round(datum.value)", "value": -8}, "value": -4}}}
     }},
    {"data": {"name": "ln"}, "transform": [{"filter": "datum.p=='sw'&&datum.s=='hist'"}],
     "mark": {"type": "line", "interpolate": "step-after", "color": "#ffaa22", "strokeWidth": 1.6, "clip": true},
     "encoding": {
      "x": {"field": "m", "type": "quantitative", "scale": {"domain": [10.453, 14], "nice": false, "zero": false},
            "axis": {"orient": "top", "values": [10.477,10.602,10.699,10.778,10.845,10.903,10.954,11,11.301,11.477,11.602,11.699,11.778,11.845,11.903,11.954,12,12.301,12.477,12.602,12.699,12.778,12.845,12.903,12.954,13,13.301,13.477,13.602,13.699,13.778,13.845,13.903,13.954,14], "labels": false, "title": null, "tickSize": {"condition": {"test": "datum.value==round(datum.value)", "value": -8}, "value": -4}}},
      "y": {"field": "t", "type": "quantitative", "scale": {"domain": [7, 10.69], "nice": false, "zero": false},
            "axis": {"orient": "right", "values": [7,7.301,7.477,7.602,7.699,7.778,7.845,7.903,7.954,8,8.301,8.477,8.602,8.699,8.778,8.845,8.903,8.954,9,9.301,9.477,9.602,9.699,9.778,9.845,9.903,9.954,10,10.301,10.477,10.602], "labels": false, "title": null, "tickSize": {"condition": {"test": "datum.value==round(datum.value)", "value": -8}, "value": -4}}}
     }},
    {"data": {"name": "ln"}, "transform": [{"filter": "datum.p=='sw'&&datum.s=='cap'"}],
     "mark": {"type": "line", "color": "#333", "strokeWidth": 1, "strokeDash": [1, 2], "clip": true},
     "encoding": {"x": {"field": "m", "type": "quantitative", "scale": {"domain": [10.453, 14]}, "axis": null}, "y": {"field": "t", "type": "quantitative", "scale": {"domain": [7, 10.69]}, "axis": null}}},
    {"data": {"name": "ln"}, "transform": [{"filter": "datum.p=='sw'&&(datum.s=='p10'||datum.s=='p90')"}],
     "mark": {"type": "line", "color": "#ffa500", "strokeWidth": 2.2, "strokeDash": [2, 4], "clip": true},
     "encoding": {"x": {"field": "m", "type": "quantitative", "scale": {"domain": [10.453, 14]}, "axis": null}, "y": {"field": "t", "type": "quantitative", "scale": {"domain": [7, 10.69]}, "axis": null}, "detail": {"field": "s"}}},
    {"data": {"name": "ln"}, "transform": [{"filter": "datum.p=='sw'&&(datum.s=='p25'||datum.s=='p75')"}],
     "mark": {"type": "line", "color": "#ffa500", "strokeWidth": 2.2, "strokeDash": [7, 5], "clip": true},
     "encoding": {"x": {"field": "m", "type": "quantitative", "scale": {"domain": [10.453, 14]}, "axis": null}, "y": {"field": "t", "type": "quantitative", "scale": {"domain": [7, 10.69]}, "axis": null}, "detail": {"field": "s"}}},
    {"data": {"name": "ln"}, "transform": [{"filter": "datum.p=='sw'&&(datum.s=='p50'||datum.s=='leg')"}],
     "mark": {"type": "line", "color": "#ffa500", "strokeWidth": 2.2, "clip": true},
     "encoding": {"x": {"field": "m", "type": "quantitative", "scale": {"domain": [10.453, 14]}, "axis": null}, "y": {"field": "t", "type": "quantitative", "scale": {"domain": [7, 10.69]}, "axis": null}, "detail": {"field": "s"}}},
    {"data": {"name": "ln"}, "transform": [{"filter": "datum.p=='sw'&&datum.s=='purple'"}],
     "mark": {"type": "line", "color": "#a234d8", "strokeWidth": 1.1, "clip": true},
     "encoding": {"x": {"field": "m", "type": "quantitative", "scale": {"domain": [10.453, 14]}, "axis": null}, "y": {"field": "t", "type": "quantitative", "scale": {"domain": [7, 10.69]}, "axis": null}}},
    {"data": {"name": "tx"}, "transform": [{"filter": "datum.p=='sw'"}],
     "mark": {"type": "text", "font": "Liberation Serif", "fontSize": 17, "baseline": "middle"},
     "encoding": {"x": {"field": "m", "type": "quantitative", "scale": {"domain": [10.453, 14]}, "axis": null}, "y": {"field": "t", "type": "quantitative", "scale": {"domain": [7, 10.69]}, "axis": null}, "text": {"field": "label"},
       "color": {"condition": {"test": "datum.k=='name'", "value": "#ffa500"}, "value": "black"},
       "align": {"condition": {"test": "datum.k=='name'", "value": "left"}, "value": "right"}}}
   ]},
  {"width": 267, "height": 142,
   "resolve": {"axis": {"x": "independent", "y": "independent"}},
   "layer": [
    {"data": {"name": "ln"}, "transform": [{"filter": "datum.p=='z'"}],
     "mark": {"type": "line", "color": "#aaaaaa", "strokeWidth": 1.2, "strokeDash": [2, 2.5], "clip": true},
     "encoding": {
      "x": {"field": "m", "type": "quantitative", "scale": {"domain": [10.453, 14], "nice": false, "zero": false},
            "axis": {"orient": "bottom", "values": [10.477,10.602,10.699,10.778,10.845,10.903,10.954,11,11.301,11.477,11.602,11.699,11.778,11.845,11.903,11.954,12,12.301,12.477,12.602,12.699,12.778,12.845,12.903,12.954,13,13.301,13.477,13.602,13.699,13.778,13.845,13.903,13.954,14], "labelExpr": "datum.value==11?'10¹¹':datum.value==12?'10¹²':datum.value==13?'10¹³':datum.value==14?'10¹⁴':''", "title": "Mₕ (M⊙)", "tickSize": {"condition": {"test": "datum.value==round(datum.value)", "value": -8}, "value": -4}}},
      "y": {"field": "t", "type": "quantitative", "scale": {"domain": [7, 10.69], "nice": false, "zero": false},
            "axis": {"orient": "left", "values": [7,7.301,7.477,7.602,7.699,7.778,7.845,7.903,7.954,8,8.301,8.477,8.602,8.699,8.778,8.845,8.903,8.954,9,9.301,9.477,9.602,9.699,9.778,9.845,9.903,9.954,10,10.301,10.477,10.602], "labels": false, "title": null, "tickSize": {"condition": {"test": "datum.value==round(datum.value)", "value": -8}, "value": -4}}},
      "detail": {"field": "s"}
     }},
    {"data": {"name": "ln"}, "transform": [{"filter": "datum.s=='cmp'"}],
     "mark": {"type": "line", "strokeWidth": 2.2, "clip": true},
     "encoding": {
      "x": {"field": "m", "type": "quantitative", "scale": {"domain": [10.453, 14], "nice": false, "zero": false},
            "axis": {"orient": "top", "values": [10.477,10.602,10.699,10.778,10.845,10.903,10.954,11,11.301,11.477,11.602,11.699,11.778,11.845,11.903,11.954,12,12.301,12.477,12.602,12.699,12.778,12.845,12.903,12.954,13,13.301,13.477,13.602,13.699,13.778,13.845,13.903,13.954,14], "labels": false, "title": null, "tickSize": {"condition": {"test": "datum.value==round(datum.value)", "value": -8}, "value": -4}}},
      "y": {"field": "t", "type": "quantitative", "scale": {"domain": [7, 10.69], "nice": false, "zero": false},
            "axis": {"orient": "right", "values": [7,7.301,7.477,7.602,7.699,7.778,7.845,7.903,7.954,8,8.301,8.477,8.602,8.699,8.778,8.845,8.903,8.954,9,9.301,9.477,9.602,9.699,9.778,9.845,9.903,9.954,10,10.301,10.477,10.602], "labelExpr": "datum.value==7?'10⁷':datum.value==8?'10⁸':datum.value==9?'10⁹':datum.value==10?'10¹⁰':''", "labelAlign": "left", "title": null, "tickSize": {"condition": {"test": "datum.value==round(datum.value)", "value": -8}, "value": -4}}},
      "color": {"field": "p", "type": "nominal", "scale": {"domain": ["sw", "cw", "vzw"], "range": ["#ffa500", "#22c7cc", "#ff00ff"]}, "legend": null}
     }},
    {"data": {"name": "tx"}, "transform": [{"filter": "datum.p=='z'"}],
     "mark": {"type": "text", "font": "Liberation Serif", "fontSize": 16, "align": "left", "baseline": "alphabetic", "color": "#a8a8a8"},
     "encoding": {"x": {"field": "m", "type": "quantitative", "scale": {"domain": [10.453, 14]}, "axis": null}, "y": {"field": "t", "type": "quantitative", "scale": {"domain": [7, 10.69]}, "axis": null}, "text": {"field": "label"}}}
   ]}
]
}
